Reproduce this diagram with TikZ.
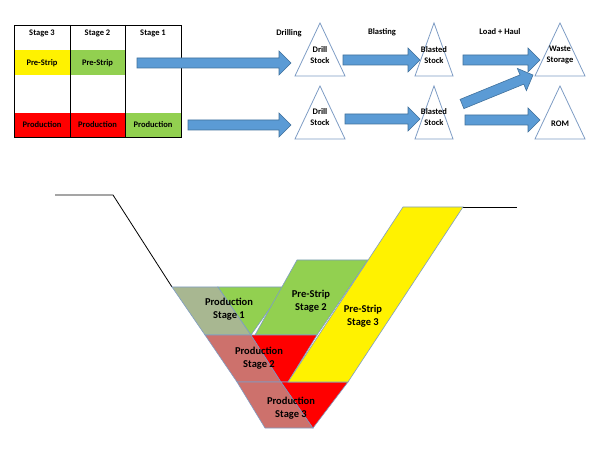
\documentclass[tikz,border=0pt]{standalone}
\usepackage{fontspec}
\setmainfont{Carlito}
\usepackage{tikz}
\usetikzlibrary{shapes.geometric,calc,positioning}
\definecolor{arrowblue}{HTML}{5B9BD5}
\definecolor{arrowedge}{HTML}{41719C}
\definecolor{pitedge}{HTML}{7E9CC4}
\definecolor{stagegreen}{HTML}{92D050}
\definecolor{minedgreen}{HTML}{A8B791}
\definecolor{minedred}{HTML}{CD716C}
\tikzset{
  lbl/.style={font=\bfseries\fontsize{8.5}{9.5}\selectfont, align=center, inner sep=0pt},
  pitlbl/.style={font=\bfseries\fontsize{10.5}{12.5}\selectfont, align=center, inner sep=0pt},
  tri/.style={draw=pitedge, line width=0.8pt, isosceles triangle, isosceles triangle apex angle=50,
    shape border rotate=90, minimum height=53, minimum width=#1, isosceles triangle stretches, inner sep=0pt, anchor=apex},
  tri/.default=50,
  barrow/.style={draw=arrowedge, fill=arrowblue, line width=0.6pt},
  pit/.style={draw=pitedge, line width=0.6pt}
}
% block arrow between two named coordinates
\newcommand\blockarrow[2]{%
  \path let \p1=($(#2)-(#1)$), \n1={veclen(\x1,\y1)}, \n2={atan2(\y1,\x1)} in
    [shift={(#1)}, rotate=\n2] [barrow] (0,-5) -- ({\n1-12},-5) -- ({\n1-12},-12) -- (\n1,0)
      -- ({\n1-12},12) -- ({\n1-12},5) -- (0,5) -- cycle;}

\begin{document}
\begin{tikzpicture}[x=1pt,y=-1pt]
\useasboundingbox (0,0) rectangle (600,449);

% stage table
\fill[yellow] (14,50) rectangle (70,75);
\fill[stagegreen] (70,50) rectangle (125,75);
\fill[red] (14,113) rectangle (125,137);
\fill[stagegreen] (125,113) rectangle (181,137);
\draw[line width=0.8pt] (14,25) rectangle (181,137) (70,25) -- (70,137) (125,25) -- (125,137);
\foreach \x/\n in {42/3,97.5/2,153/1} \node[lbl] (h\n) at (\x,33) {Stage \n};
\node[lbl] (ps3) at (42,63) {Pre-Strip};
\node[lbl] (ps2) at (97.5,63) {Pre-Strip};
\foreach \x/\n in {42/3,97.5/2,153/1} \node[lbl] (pr\n) at (\x,125) {Production};

% process triangles
\node[tri] (drillA) at (320,22) {};
\node[tri] (drillB) at (320,85) {};
\node[tri=38] (blastA) at (434,22) {};
\node[tri=38] (blastB) at (434,85) {};
\node[tri] (waste) at (560,22) {};
\node[tri] (rom) at (560,85) {};
\node[lbl] (tdrillA) at (320,55) {Drill\\[2pt]Stock};
\node[lbl] (tdrillB) at (320,117) {Drill\\[2pt]Stock};
\node[lbl] (tblastA) at (434,55) {Blasted\\[2pt]Stock};
\node[lbl] (tblastB) at (434,117) {Blasted\\[2pt]Stock};
\node[lbl] (twaste) at (560,55) {Waste\\[2pt]Storage};
\node[lbl] (trom) at (560,124) {ROM};
\node[lbl] (drilling) at (289,33) {Drilling};
\node[lbl] (blasting) at (382,32) {Blasting};
\node[lbl] (haul) at (500,32) {Load + Haul};

% flow arrows
\coordinate (a1) at (137,63);  \coordinate (a2) at (291,63);
\coordinate (b1) at (188,125); \coordinate (b2) at (291,125);
\coordinate (c1) at (343,60);  \coordinate (c2) at (420,60);
\coordinate (d1) at (345,119); \coordinate (d2) at (420,119);
\coordinate (e1) at (463,60);  \coordinate (e2) at (540,60);
\coordinate (f1) at (462,104); \coordinate (f2) at (533,75);
\coordinate (g1) at (465,120); \coordinate (g2) at (540,120);
\blockarrow{a1}{a2}
\blockarrow{b1}{b2}
\blockarrow{c1}{c2}
\blockarrow{d1}{d2}
\blockarrow{e1}{e2}
\blockarrow{f1}{f2}
\blockarrow{g1}{g2}

% pit section
\draw[line width=0.8pt] (55,195) -- (113,195) -- (172,287);
\draw[line width=0.8pt] (463,207) -- (517,207);
\filldraw[pit, fill=minedgreen] (172,287) -- (218,287) -- (251,335) -- (205,335) -- cycle;
\filldraw[pit, fill=stagegreen] (218,287) -- (285,287) -- (251,335) -- cycle;
\filldraw[pit, fill=stagegreen] (297,260) -- (368,260) -- (317,335) -- (255,335) -- cycle;
\filldraw[pit, fill=minedred] (205,335) -- (251,335) -- (281,382) -- (237,382) -- cycle;
\filldraw[pit, fill=red] (251,335) -- (317,335) -- (288,382) -- (281,382) -- cycle;
\filldraw[pit, fill=minedred] (237,382) -- (281,382) -- (313,428) -- (265,428) -- cycle;
\filldraw[pit, fill=red] (281,382) -- (348,382) -- (313,428) -- cycle;
\filldraw[pit, fill=yellow] (403,207) -- (463,207) -- (348,382) -- (288,382) -- cycle;
\node[pitlbl] (prod1) at (229,309) {Production\\Stage 1};
\node[pitlbl] (strip2) at (311,301) {Pre-Strip\\Stage 2};
\node[pitlbl] (strip3) at (363,316) {Pre-Strip\\Stage 3};
\node[pitlbl] (prod2) at (259,358) {Production\\Stage 2};
\node[pitlbl] (prod3) at (291,408) {Production\\Stage 3};
\end{tikzpicture}
\end{document}
